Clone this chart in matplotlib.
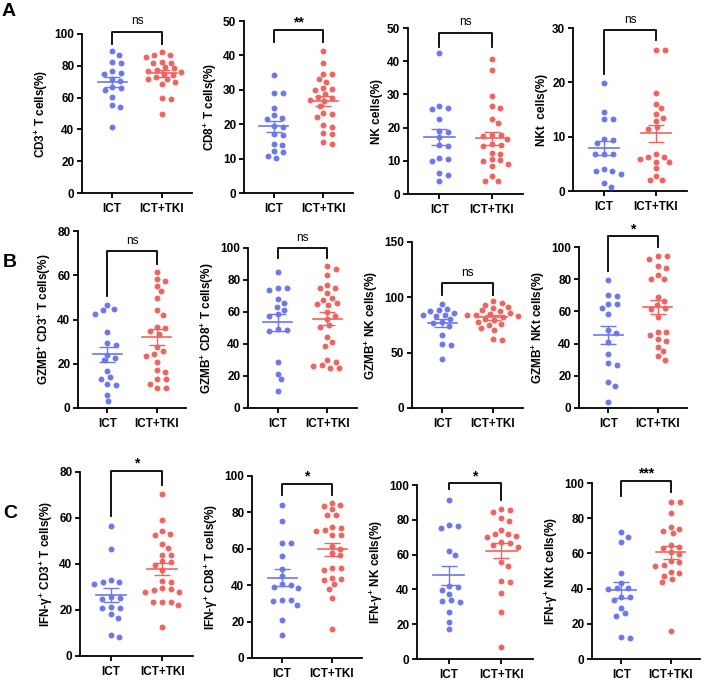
import numpy as np
import matplotlib
matplotlib.use("Agg")
import matplotlib.pyplot as plt

plt.rcParams['font.family'] = ['Liberation Sans', 'DejaVu Sans']
plt.rcParams['font.weight'] = 'bold'
plt.rcParams['mathtext.fontset'] = 'custom'
plt.rcParams['mathtext.rm'] = 'Liberation Sans:bold'
plt.rcParams['mathtext.bf'] = 'Liberation Sans:bold'
plt.rcParams['mathtext.it'] = 'Liberation Sans:bold'

groups = ["ICT", "ICT+TKI"]

# row A
cd3_ict = [89, 86.5, 82.4, 81.7, 76.5, 75.4, 75, 71.6, 70.2, 66.6, 66, 64.5, 60.3, 55.5, 54, 41.2]
cd3_tki = [88.5, 87, 86.5, 85.5, 82.5, 82, 81.5, 79, 78.5, 77.5, 76.5, 76, 75, 74.5, 73, 72, 71.5, 70,
           68.5, 59.5, 59, 49.5]
cd8_ict = [34.2, 29.1, 29.1, 24.7, 22.6, 21.9, 21.4, 19.4, 19.2, 17.1, 16.8, 14.3, 13.9, 12.2, 11.9, 10.9, 10.3]
cd8_tki = [41.3, 37.9, 34.7, 34.5, 33.2, 32.3, 30.6, 30.3, 30, 28.9, 27.9, 27.7, 27.1, 26.7, 25.2, 23.3,
           23.1, 22.1, 19.7, 19.2, 17.4, 17.1, 14.8, 14.3]
nk_ict = [42.6, 26.5, 25.8, 25.5, 22.5, 19.1, 18.8, 17.1, 14.8, 14.5, 10.8, 10.5, 9.8, 6.3, 5.8, 3.8]
nk_tki = [40.8, 37.5, 29.6, 26.5, 26, 22.5, 21.3, 17.8, 17.8, 17.5, 16.5, 15.1, 14.8, 14.5, 12.5, 12.1,
          10.5, 10.1, 9.8, 9.1, 8.3, 5.3, 4, 4]
nkt_ict = [19.8, 14.5, 13.3, 13.3, 9.5, 9.4, 8.9, 6.8, 6.8, 6.8, 4, 3.6, 3.6, 3.1, 1.5, 0.8]
nkt_tki = [26, 25.9, 18.1, 16.1, 15.2, 14.1, 13.5, 12.9, 11.8, 11.5, 6.8, 6.3, 6.2, 5.8, 5.4, 5.4,
           4.2, 2.8, 2, 2]

# row B
gzmb_cd3_ict = [46.4, 44.6, 44.1, 42.5, 34.2, 29.5, 28.6, 24.0, 22.6, 21.5, 16.6, 14, 13.3, 11, 10.5, 5.7, 3]
gzmb_cd3_tki = [61.4, 58.1, 57.2, 55.1, 52.7, 49.7, 44.1, 42.2, 36.6, 36.1, 34.6, 33.6, 27.6, 25.6, 24.5,
                23.5, 20.8, 17, 16.3, 13, 13, 11, 9, 9]
gzmb_cd8_ict = [84.9, 75.3, 74.9, 73.8, 68.2, 65.5, 63.4, 61.3, 58.6, 57.7, 49.4, 48.7, 48.1, 28.9, 21.5, 18, 10.5]
gzmb_cd8_tki = [88.5, 87, 83.3, 77, 75.3, 74.9, 71.8, 68.6, 67.6, 65.5, 64.9, 64.4, 59.8, 57.7, 55.6, 51.9,
                50.8, 44.6, 41.4, 38.9, 29.9, 28.9, 26.8, 26.4, 25.1, 24.7]
gzmb_nk_ict = [94.3, 89.8, 88.3, 87.3, 86.1, 84.3, 83.7, 83.1, 80.1, 77.7, 77.1, 74.1, 65.7, 58.1, 57.2, 44.6]
gzmb_nk_tki = [96.4, 95.2, 93.4, 91.3, 90.4, 88.3, 87.3, 86.1, 85.2, 84.3, 83.7, 83.1, 82.2, 80.7, 79.2,
               77.7, 76.2, 74.7, 72.3, 70.2, 62.7, 61.7]
gzmb_nkt_ict = [79.4, 69.7, 70.1, 64.9, 64.3, 62.3, 58.1, 48.5, 46.4, 41.2, 33.4, 27.8, 26.4, 16.1, 13.4, 3.7]
gzmb_nkt_tki = [94.4, 94.4, 92.8, 88.2, 87, 82.9, 80.4, 80.4, 69, 66.4, 63.9, 62.3, 61.4, 56.7, 47.4, 47,
                45.4, 42.9, 41.6, 38.1, 35.1, 32, 29.9]

# row C
ifng_cd3_ict = [56.6, 46.7, 33, 32.3, 32, 31.5, 25.8, 25.3, 25, 21.4, 21, 20.7, 18.1, 16.6, 9.1, 8.4]
ifng_cd3_tki = [70.6, 59, 54.3, 53, 52.8, 48.9, 47, 44.1, 43.8, 41.2, 41, 39.5, 37.3, 32.6, 32.3, 29.4,
                29.1, 28.7, 28, 27.9, 23.6, 23.6, 23.6, 22, 12.5]
ifng_cd8_ict = [84.2, 75.3, 63.2, 63.2, 56, 48.7, 45.1, 40.8, 40.3, 39, 38.5, 31.7, 31.7, 31.1, 29.3, 20.7, 12.5]
ifng_cd8_tki = [85.2, 83.9, 83.5, 81.7, 78.8, 78.4, 72, 71.4, 70.1, 69.6, 67.8, 67.4, 61.5, 60.1, 57.9,
                56.8, 49.5, 49.5, 48.2, 44, 43.2, 42.7, 40.8, 38, 33, 15.8]
ifng_nk_ict = [91.4, 77, 76.6, 75.5, 62.1, 59.8, 42.1, 41.6, 39.7, 37.2, 33.9, 33.3, 33, 26.8, 21.1, 17.2]
ifng_nk_tki = [86.2, 85.6, 84.7, 80.8, 79.3, 74.1, 71.6, 71.6, 70.9, 70.3, 67, 66.5, 65.5, 64.6, 55.9,
               53.6, 44.8, 44.1, 37.7, 27.2, 7.1]
ifng_nkt_ict = [72.1, 69.6, 66.4, 48.8, 43.1, 40.6, 40.2, 39.7, 35.5, 35.5, 33.6, 29.2, 26, 24.7, 12.7, 12.1]
ifng_nkt_tki = [89.2, 89.2, 82.9, 74.8, 74, 72.9, 71.5, 64.9, 63.9, 63, 60.7, 59.6, 55.8, 55, 53.5, 53.1,
                49.3, 48.8, 46.9, 45.5, 43.6, 15.9]

ylabels = [
    "CD3$^{+}$ T cells(%)", "CD8$^{+}$ T cells(%)", "NK cells(%)", "NKt  cells(%)",
    "GZMB$^{+}$ CD3$^{+}$ T cells(%)", "GZMB$^{+}$ CD8$^{+}$ T cells(%)",
    "GZMB$^{+}$ NK cells(%)", "GZMB$^{+}$ NKt cells(%)",
    "IFN-γ$^{+}$ CD3$^{+}$ T cells(%)", "IFN-γ$^{+}$ CD8$^{+}$ T cells(%)",
    "IFN-γ$^{+}$ NK cells(%)", "IFN-γ$^{+}$ NKt cells(%)",
]
sig_labels = ["ns", "**", "ns", "ns", "ns", "ns", "ns", "*", "*", "*", "*", "***"]
ymax = [100, 50, 50, 30, 80, 100, 150, 100, 80, 100, 100, 100]
ystep = [20, 10, 10, 10, 20, 20, 50, 20, 20, 20, 20, 20]

series = [
    (cd3_ict, cd3_tki), (cd8_ict, cd8_tki), (nk_ict, nk_tki), (nkt_ict, nkt_tki),
    (gzmb_cd3_ict, gzmb_cd3_tki), (gzmb_cd8_ict, gzmb_cd8_tki), (gzmb_nk_ict, gzmb_nk_tki),
    (gzmb_nkt_ict, gzmb_nkt_tki),
    (ifng_cd3_ict, ifng_cd3_tki), (ifng_cd8_ict, ifng_cd8_tki), (ifng_nk_ict, ifng_nk_tki),
    (ifng_nkt_ict, ifng_nkt_tki),
]

# layout: axes box in pixels (left, top, right, bottom)
boxes = [
    (82, 34, 192, 193), (244, 21, 353, 193), (408, 28, 523, 194), (573, 28, 687, 191),
    (78, 231, 186, 408), (248, 248, 357, 408), (412, 242, 523, 408), (579, 247, 687, 408),
    (80, 472, 193, 656), (252, 476, 362, 658), (417, 485, 533, 659), (592, 483, 700, 659),
]
# bracket: bar height, left leg end, right leg end
brackets = [
    (101.5, 94, 94), (47.5, 44, 44), (48.6, 44.3, 44.3), (29.6, 21.6, 27.8),
    (70.8, 50.6, 65.2), (100, 93.5, 93.5), (113, 101.8, 101.8), (106.8, 85, 100),
    (80.5, 60.8, 74.5), (95.8, 89.7, 89.7), (101, 97.5, 91.5), (101.3, 92.4, 94.9),
]

blue = '#6b78f2'
red = '#f2635e'
W, H = 708, 685


def swarm_x(ax, xc, vals, sx=9.0, sy=6.0):
    # beeswarm in pixel space with an elliptical spacing (wider than tall)
    pts = ax.transData.transform(np.column_stack([np.full(len(vals), xc), vals]))
    offs = np.zeros(len(vals))
    placed = []
    order = np.argsort(-np.asarray(vals))
    for i in order:
        y = pts[i, 1]
        near = [(px, py) for px, py in placed if abs(py - y) < sy]
        cands = [0.0]
        for px, py in near:
            dx = sx * np.sqrt(1 - ((py - y) / sy) ** 2)
            cands += [px + dx, px - dx]
        cands.sort(key=abs)
        for c in cands:
            if all(((c - px) / sx) ** 2 + ((y - py) / sy) ** 2 >= 1 - 1e-6 for px, py in near):
                offs[i] = c
                placed.append((c, y))
                break
    disp = np.column_stack([pts[:, 0] + offs, pts[:, 1]])
    return ax.transData.inverted().transform(disp)[:, 0]


fig = plt.figure(figsize=(W / 100, H / 100), dpi=100)

for k in range(12):
    l, t, r, b = boxes[k]
    ax = fig.add_axes([l / W, 1 - b / H, (r - l) / W, (b - t) / H])
    ax.set_xlim(-0.6, 1.6)
    ax.set_ylim(0, ymax[k])
    ax.set_yticks(np.arange(0, ymax[k] + 0.1, ystep[k]))
    ax.set_xticks([0, 1])
    ax.set_xticklabels(groups)
    for s in ['top', 'right']:
        ax.spines[s].set_visible(False)
    for s in ['left', 'bottom']:
        ax.spines[s].set_linewidth(1.3)
    ax.tick_params(width=1.3, length=3.5, labelsize=8.5, pad=2)
    ax.tick_params(axis='x', pad=4)
    ax.set_ylabel(ylabels[k], fontsize=8.5, fontweight='bold', labelpad=3)

    for g, (vals, col) in enumerate(zip(series[k], [blue, red])):
        vals = np.asarray(vals, dtype=float)
        xs = swarm_x(ax, g, vals)
        ax.scatter(xs, vals, s=18, color=col, linewidths=0, zorder=3, clip_on=False)
        m = vals.mean()
        sem = vals.std(ddof=1) / np.sqrt(len(vals))
        ax.plot([g - 0.29, g + 0.29], [m, m], color=col, lw=1.2, zorder=4)
        ax.errorbar(g, m, yerr=sem, color=col, lw=1.0, capsize=6, capthick=1.0, zorder=4)

    bar, le, re = brackets[k]
    ax.plot([0, 0, 1, 1], [le, bar, bar, re], color='black', lw=1.3, clip_on=False)
    if sig_labels[k] == "ns":
        ax.annotate("ns", (0.5, bar), xytext=(0, 3), textcoords='offset points',
                    ha='center', va='bottom', fontsize=8.5, fontweight='normal', annotation_clip=False)
    else:
        ax.annotate(sig_labels[k], (0.5, bar), xytext=(0, 0), textcoords='offset points',
                    ha='center', va='bottom', fontsize=10, fontweight='bold', annotation_clip=False)

fig.text(2 / W, 1 - 3 / H, "A", fontsize=14, fontweight='bold', va='top')
fig.text(3 / W, 1 - 254 / H, "B", fontsize=14, fontweight='bold', va='top')
fig.text(3 / W, 1 - 505 / H, "C", fontsize=14, fontweight='bold', va='top')

fig.savefig("out.png", dpi=100)
